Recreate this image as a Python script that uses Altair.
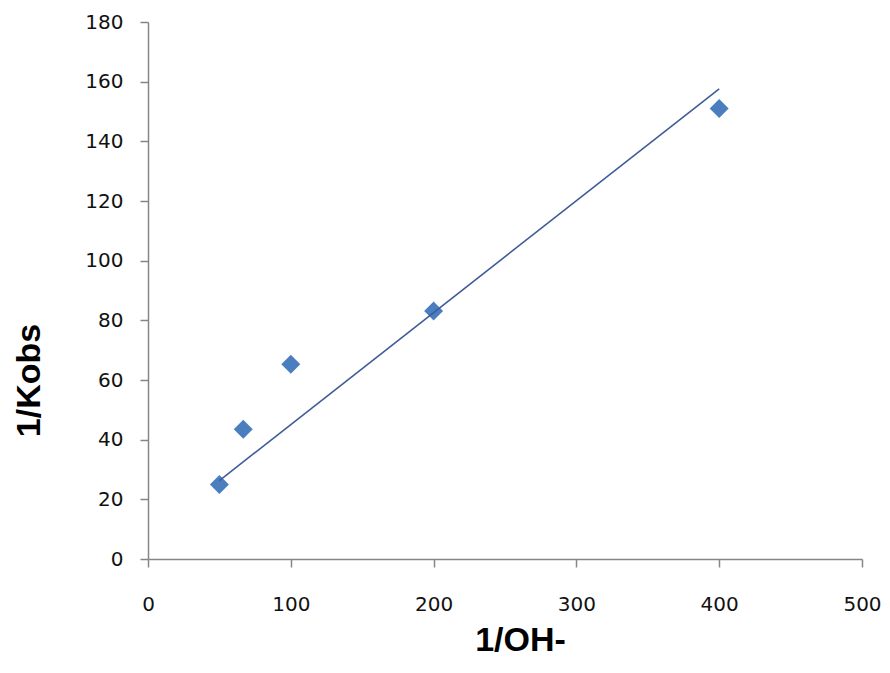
import altair as alt
import pandas as pd

# Data
inv_oh = [50, 66.7, 100, 200, 400]
inv_kobs = [25.0, 43.5, 65.3, 83.1, 151.0]

# Trendline as drawn in the reference (end points)
trend_x = [50, 400]
trend_y = [26.3, 157.6]

x_ticks = [0, 100, 200, 300, 400, 500]
y_ticks = [0, 20, 40, 60, 80, 100, 120, 140, 160, 180]

pts = pd.DataFrame({"x": inv_oh, "y": inv_kobs})
trend = pd.DataFrame({"x": trend_x, "y": trend_y})

xscale = alt.Scale(domain=[0, 500], nice=False, zero=False)
yscale = alt.Scale(domain=[0, 180], nice=False, zero=False)

xaxis = alt.Axis(
    title="1/OH-", values=x_ticks, grid=False,
    domainColor="#868686", domainWidth=1.5, tickColor="#868686", tickWidth=1.5,
    tickSize=8, labelPadding=27, labelFont="DejaVu Sans", labelFontSize=20,
    labelColor="#111111", labelFlush=False, labelOverlap=False,
    titleFont="Liberation Sans", titleFontSize=34, titleFontWeight="bold",
    titleColor="#000000", titleX=372, titleY=91, titleAlign="center",
    titleBaseline="alphabetic",
)
yaxis = alt.Axis(
    title="1/Kobs", values=y_ticks, grid=False,
    domainColor="#868686", domainWidth=1.5, tickColor="#868686", tickWidth=1.5,
    tickSize=8, labelPadding=17, labelFont="DejaVu Sans", labelFontSize=20,
    labelColor="#111111", labelFlush=False, labelOverlap=False,
    titleFont="Liberation Sans", titleFontSize=34, titleFontWeight="bold",
    titleColor="#000000", titleX=-109, titleY=358, titleAlign="center",
    titleBaseline="alphabetic", titleAngle=270,
)

points = alt.Chart(pts).mark_point(
    shape="diamond", filled=True, size=360, color="#4A7EBF", opacity=1
).encode(
    x=alt.X("x:Q", scale=xscale, axis=xaxis),
    y=alt.Y("y:Q", scale=yscale, axis=yaxis),
)

line = alt.Chart(trend).mark_line(color="#3F5C96", strokeWidth=1.6).encode(
    x=alt.X("x:Q", scale=xscale),
    y=alt.Y("y:Q", scale=yscale),
)

chart = (
    alt.layer(points, line)
    .properties(
        width=714, height=537,
        autosize=alt.AutoSizeParams(type="none"),
        padding={"left": 140, "top": 14, "right": 19, "bottom": 100},
        background="white",
    )
    .configure_view(stroke=None)
)

chart.save("out.html", embed_options={"renderer": "svg", "actions": False})
